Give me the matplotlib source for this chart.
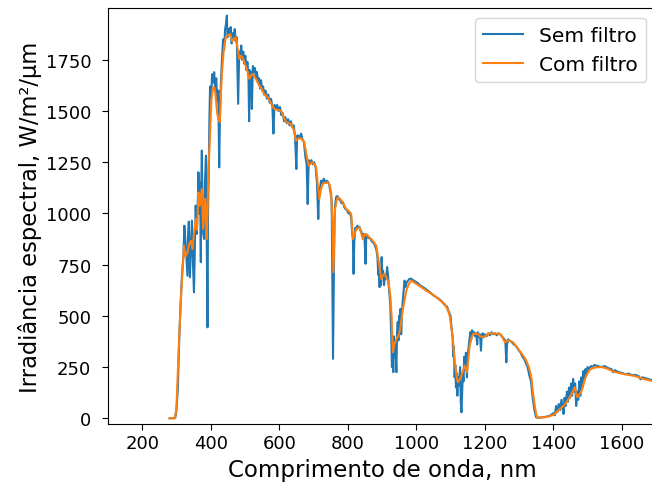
import numpy as np
import matplotlib
matplotlib.use("Agg")
import matplotlib.pyplot as plt

# ---------------- dados ----------------
# Sem filtro (espectro bruto)
wl_sem = [280, 290, 296, 300, 304, 308, 312, 316, 320, 323, 326, 329, 332, 334, 336, 339, 342, 345, 348, 351,
          354, 356, 359, 362, 364, 367, 369, 371, 372, 374, 376, 378, 381, 383, 386, 388, 390.5, 392, 394, 396,
          398, 401, 404, 407, 410, 413, 416, 419, 422, 424.7, 427, 430, 433, 436, 439, 442, 445, 447, 449, 452,
          455, 458, 461, 464, 467, 470, 473, 476, 480, 483, 486, 489, 492, 495, 498, 501, 504, 507, 510, 512,
          514, 517, 520, 523, 526, 529, 532, 535, 538, 541, 544, 547, 550, 553, 556, 560, 564, 568, 572, 576,
          580, 583, 586, 590, 594, 598, 602, 606, 610, 614, 618, 622, 626, 630, 634, 638, 642, 646, 650, 652,
          656, 660, 664, 668, 672, 676, 680, 683, 686, 690, 694, 698, 702, 706, 710, 714, 716, 719, 722, 726,
          730, 734, 738, 742, 746, 750, 753, 755, 757, 759, 761, 763, 766, 770, 774, 778, 782, 786, 790, 794,
          798, 802, 806, 810, 813, 815, 817, 819, 822, 825, 828, 831, 834, 837, 840, 843, 846, 849, 852, 854,
          857, 860, 864, 868, 872, 876, 880, 884, 887, 889, 891, 893, 895, 897, 899, 901, 903, 906, 909, 912,
          915, 918, 921, 924, 927, 929, 931, 933, 935, 937, 939, 942, 944, 946, 948, 950, 952, 954, 956, 958,
          960, 963, 966, 968, 971, 975, 980, 985, 990, 995, 1000, 1005, 1010, 1020, 1030, 1040, 1050, 1060, 1070, 1075,
          1080, 1085, 1090, 1095, 1100, 1103, 1106, 1108, 1110, 1112, 1114, 1116, 1118, 1120, 1122, 1125, 1128, 1130, 1132, 1134,
          1136, 1138, 1140, 1142, 1145, 1148, 1150, 1153, 1156, 1158, 1160, 1163, 1166, 1169, 1172, 1175, 1178, 1180, 1183, 1186,
          1189, 1191, 1194, 1197, 1200, 1205, 1210, 1215, 1220, 1225, 1230, 1235, 1240, 1245, 1250, 1255, 1260, 1263, 1265, 1268,
          1272, 1276, 1280, 1285, 1290, 1295, 1300, 1305, 1310, 1315, 1320, 1325, 1330, 1335, 1340, 1345, 1350, 1355, 1360, 1370,
          1380, 1390, 1400, 1405, 1408, 1412, 1416, 1420, 1424, 1428, 1430, 1433, 1436, 1440, 1443, 1446, 1449, 1452, 1455, 1458,
          1461, 1464, 1467, 1470, 1473, 1476, 1479, 1482, 1485, 1488, 1491, 1494, 1497, 1500, 1505, 1510, 1515, 1520, 1530, 1540,
          1550, 1560, 1570, 1575, 1580, 1590, 1600, 1610, 1620, 1630, 1640, 1650, 1655, 1660, 1670, 1680, 1690, 1700]
irr_sem = [0, 0, 2, 40, 150, 390, 560, 700, 790, 940, 870, 780, 696, 900, 960, 688, 830, 965, 760, 615,
           880, 1038, 900, 1050, 1201, 1000, 1150, 762, 1100, 1307, 1000, 900, 875, 1150, 1282, 950, 444, 1000, 1200, 1450,
           1620, 1560, 1680, 1640, 1690, 1600, 1660, 1550, 1600, 1225, 1500, 1650, 1760, 1850, 1800, 1900, 1930, 1966, 1860, 1900,
           1870, 1910, 1830, 1880, 1860, 1900, 1840, 1860, 1535, 1790, 1760, 1820, 1750, 1790, 1730, 1770, 1700, 1740, 1680, 1450,
           1700, 1690, 1510, 1720, 1690, 1710, 1660, 1690, 1640, 1660, 1610, 1650, 1600, 1620, 1580, 1600, 1560, 1580, 1540, 1560,
           1520, 1390, 1530, 1510, 1530, 1500, 1520, 1480, 1490, 1450, 1470, 1440, 1460, 1430, 1450, 1420, 1430, 1380, 1217, 1380,
           1380, 1370, 1390, 1360, 1350, 1280, 1240, 1046, 1260, 1250, 1260, 1240, 1250, 1230, 1150, 973, 1100, 1120, 1160, 1150,
           1170, 1150, 1160, 1155, 1140, 1100, 1060, 700, 290, 600, 950, 1040, 1080, 1085, 1070, 1065, 1050, 1055, 1030, 1020,
           1015, 1000, 1005, 980, 900, 880, 705, 860, 930, 920, 940, 930, 935, 920, 910, 890, 900, 880, 754, 890,
           895, 880, 880, 870, 860, 855, 840, 820, 780, 700, 720, 640, 730, 650, 787, 700, 720, 650, 700, 680,
           738, 690, 620, 560, 400, 250, 320, 225, 400, 300, 360, 225, 420, 470, 380, 500, 430, 534, 410, 500,
           560, 620, 672, 640, 660, 670, 680, 682, 675, 670, 665, 660, 650, 640, 628, 615, 600, 590, 578, 570,
           560, 550, 545, 520, 500, 440, 400, 300, 350, 200, 260, 150, 220, 110, 200, 160, 250, 80, 29, 120,
           220, 180, 300, 240, 320, 200, 300, 350, 390, 420, 380, 430, 410, 420, 400, 415, 360, 420, 400, 410,
           330, 400, 415, 395, 410, 400, 415, 405, 420, 410, 415, 405, 415, 410, 400, 390, 380, 273, 360, 385,
           380, 375, 370, 360, 355, 345, 330, 320, 300, 290, 270, 250, 210, 180, 100, 40, 5, 2, 3, 5,
           8, 12, 25, 15, 60, 30, 70, 40, 90, 50, 21, 100, 60, 130, 80, 150, 100, 170, 110, 192,
           130, 170, 60, 130, 90, 180, 110, 200, 150, 230, 190, 240, 210, 250, 240, 255, 250, 260, 255, 250,
           255, 245, 240, 225, 235, 225, 222, 215, 218, 210, 212, 205, 190, 200, 195, 190, 185, 188]

# Com filtro (espectro suavizado)
wl_com = [280, 296, 300, 307.7, 314, 322, 327, 332, 337, 342, 346.6, 351.6, 356.5, 360, 364, 368, 374, 378, 383.7, 388.7,
          393, 397.5, 402, 406, 410, 414, 418, 422, 426.7, 430, 433.5, 438, 444, 450, 457, 462.7, 468, 473.5, 478, 483,
          488, 492.9, 500, 506, 512.5, 520, 527, 534, 541.7, 548, 556, 565, 575, 585.5, 595, 605, 613, 620, 628, 634.5,
          642, 649, 656, 663.7, 673, 679, 686, 692, 697.7, 703, 707.6, 712, 717, 722, 727, 734, 741.5, 747, 751.5, 755,
          758, 760.5, 763, 767, 771, 778, 785.5, 795, 804, 810, 815, 820, 825, 834, 840, 844, 849, 854, 861, 868.5,
          876, 883, 887, 891, 895, 898, 902, 907, 912, 917, 921, 925, 928, 930, 932, 936, 942, 947, 951, 956,
          961, 966, 971, 978, 985.6, 992, 1000, 1015, 1029, 1045, 1059, 1070, 1083, 1092, 1097.6, 1102, 1107, 1111, 1115, 1118,
          1122, 1127, 1132, 1137, 1141.5, 1145, 1148, 1152, 1156, 1161, 1166, 1173, 1180, 1187, 1195, 1205, 1215, 1230, 1244, 1252,
          1258.5, 1263, 1268, 1275, 1283, 1290, 1297.5, 1305, 1312, 1320, 1327, 1332, 1336.6, 1341, 1346, 1350, 1353, 1360, 1375, 1390,
          1405, 1419, 1430, 1439, 1447, 1453.6, 1458, 1463, 1466, 1470, 1476, 1483, 1488, 1492.6, 1500, 1507, 1515, 1527, 1540, 1551,
          1563, 1575.5, 1590, 1604.6, 1620, 1634, 1650, 1663, 1683, 1700]
irr_com = [0, 0, 60, 390, 620, 843, 790, 810, 850, 867, 827, 908, 973, 920, 1103, 1038, 1120, 924, 1071, 875,
           1201, 1364, 1560, 1610, 1617, 1580, 1500, 1460, 1447, 1600, 1705, 1800, 1860, 1870, 1875, 1840, 1850, 1860, 1810, 1755,
           1770, 1760, 1730, 1700, 1657, 1680, 1673, 1650, 1624, 1610, 1583, 1570, 1540, 1510, 1505, 1502, 1470, 1446, 1440, 1437,
           1410, 1355, 1365, 1367, 1348, 1290, 1233, 1245, 1250, 1240, 1225, 1150, 1071, 1120, 1144, 1150, 1152, 1140, 1103, 950,
           713, 870, 1022, 1060, 1079, 1070, 1055, 1022, 1010, 998, 875, 900, 924, 932, 900, 875, 895, 900, 885, 875,
           860, 843, 800, 762, 710, 680, 695, 705, 690, 672, 640, 583, 500, 400, 322, 360, 387, 400, 420, 470,
           534, 580, 623, 655, 672, 665, 656, 640, 623, 607, 591, 575, 558, 530, 501, 450, 387, 300, 241, 200,
           176, 190, 208, 235, 257, 240, 225, 290, 354, 390, 412, 412, 412, 400, 396, 405, 415, 413, 412, 395,
           371, 375, 379, 376, 371, 355, 338, 322, 306, 285, 257, 230, 192, 120, 62, 20, 5, 3, 5, 10,
           21, 45, 60, 78, 100, 119, 135, 151, 125, 103, 115, 135, 165, 192, 220, 237, 245, 249, 250, 246,
           238, 228, 222, 216, 212, 208, 200, 192, 184, 182]

fig = plt.figure(figsize=(6.52, 4.89), dpi=100)
ax = fig.add_axes([108/652, 1 - 425/489, 548/652, 416/489])

ax.plot(wl_sem, irr_sem, color='C0', linewidth=1.5, label='Sem filtro')
ax.plot(wl_com, irr_com, color='C1', linewidth=1.5, label='Com filtro')

ax.set_xlim(100, 1700)
ax.set_ylim(-28, 2003)
ax.set_xticks([200, 400, 600, 800, 1000, 1200, 1400, 1600])
ax.set_yticks([0, 250, 500, 750, 1000, 1250, 1500, 1750])
ax.tick_params(labelsize=13, length=4)
ax.tick_params(axis='y', pad=8)
ax.set_xlabel('Comprimento de onda, nm', fontsize=16.5)
ax.set_ylabel('Irradiância espectral, W/m²/μm', fontsize=16.3, labelpad=3)
ax.legend(loc='upper right', fontsize=14.5)

fig.savefig('out.png', dpi=100)
